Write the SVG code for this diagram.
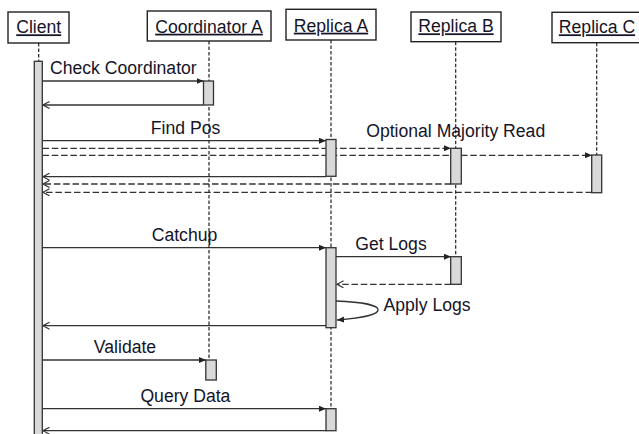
<svg xmlns="http://www.w3.org/2000/svg" width="639" height="434" viewBox="0 0 639 434">
<style>
text{font-family:"Liberation Sans",Arial,sans-serif;font-size:17.6px;fill:#141428}
.hdr{text-anchor:middle;text-decoration:underline}
.box{fill:#fff;stroke:#222;stroke-width:1.4}
.life{stroke:#222;stroke-width:1.2;stroke-dasharray:3.5,2;fill:none}
.bar{fill:#d9d9d9;stroke:#333;stroke-width:1.3}
.msg{stroke:#333;stroke-width:1.3;fill:none}
.dash{stroke-dasharray:6.5,2.8}
.call{marker-end:url(#filled)}
.ret{marker-end:url(#open)}
</style>
<defs>
<marker id="filled" markerUnits="userSpaceOnUse" markerWidth="8" markerHeight="7" refX="7" refY="3" orient="auto">
<path d="M0,0 L7,3 L0,6 z" fill="#222"/>
</marker>
<marker id="open" markerUnits="userSpaceOnUse" markerWidth="9" markerHeight="9" refX="7.5" refY="4" orient="auto">
<path d="M1,0.5 L7.5,4 L1,7.5" fill="none" stroke="#333" stroke-width="1.2"/>
</marker>
</defs>
<rect width="639" height="434" fill="#fff"/>
<g id="connectors">
<line class="msg call" x1="42.5" y1="81" x2="203.5" y2="81"/>
<line class="msg ret" x1="203" y1="105" x2="43" y2="105"/>
<line class="msg call" x1="42.5" y1="140.7" x2="326" y2="140.7"/>
<line class="msg dash call" x1="42.5" y1="148.3" x2="451" y2="148.3"/>
<line class="msg dash call" x1="42.5" y1="155.3" x2="592" y2="155.3"/>
<line class="msg ret" x1="326" y1="176.7" x2="43" y2="176.7"/>
<line class="msg dash ret" x1="451" y1="184" x2="43" y2="184"/>
<line class="msg dash ret" x1="592" y1="192.3" x2="43" y2="192.3"/>
<line class="msg call" x1="42.5" y1="247.7" x2="326" y2="247.7"/>
<line class="msg call" x1="336" y1="256.7" x2="451" y2="256.7"/>
<line class="msg dash ret" x1="451" y1="284.3" x2="337" y2="284.3"/>
<path class="msg call" d="M336,301 C392,303 392,316 337,320"/>
<line class="msg ret" x1="326" y1="325.7" x2="43" y2="325.7"/>
<line class="msg call" x1="42.5" y1="360" x2="206" y2="360"/>
<line class="msg call" x1="42.5" y1="408.7" x2="326" y2="408.7"/>
<line class="msg ret" x1="326" y1="430.7" x2="43" y2="430.7"/>
<text x="50" y="74">Check Coordinator</text>
<text x="185.5" y="134" text-anchor="middle">Find Pos</text>
<text x="455.7" y="137.3" text-anchor="middle">Optional Majority Read</text>
<text x="184.5" y="240.7" text-anchor="middle">Catchup</text>
<text x="391" y="250" text-anchor="middle">Get Logs</text>
<text x="383.5" y="311">Apply Logs</text>
<text x="125" y="352.7" text-anchor="middle">Validate</text>
<text x="185.4" y="401.7" text-anchor="middle">Query Data</text>
</g>
<g id="client">
<rect class="box" x="8" y="12" width="61" height="31"/>
<text class="hdr" x="38.7" y="33.3">Client</text>
<line class="life" x1="38.7" y1="43" x2="38.7" y2="61"/>
<rect class="bar" x="34.3" y="61.3" width="8" height="380"/>
</g>
<g id="coordinatorA">
<rect class="box" x="147.3" y="11" width="123.7" height="30"/>
<text class="hdr" x="209" y="32.7">Coordinator A</text>
<line class="life" x1="209" y1="41" x2="209" y2="360"/>
<rect class="bar" x="203.5" y="81" width="10" height="24"/>
<rect class="bar" x="205.8" y="360" width="10.5" height="20"/>
</g>
<g id="replicaA">
<rect class="box" x="286" y="9.3" width="90" height="30.7"/>
<text class="hdr" x="331" y="31.7">Replica A</text>
<line class="life" x1="331" y1="40" x2="331" y2="409"/>
<rect class="bar" x="326" y="139.5" width="10" height="36.8"/>
<rect class="bar" x="326" y="247.7" width="10" height="80"/>
<rect class="bar" x="326" y="408.7" width="10" height="22"/>
</g>
<g id="replicaB">
<rect class="box" x="411" y="12" width="90" height="29.7"/>
<text class="hdr" x="456" y="32.3">Replica B</text>
<line class="life" x1="455.7" y1="41.7" x2="455.7" y2="257"/>
<rect class="bar" x="450.7" y="148.3" width="10.6" height="35.7"/>
<rect class="bar" x="450.7" y="256.7" width="10.6" height="27.6"/>
</g>
<g id="replicaC">
<rect class="box" x="552" y="12.3" width="90" height="30.4"/>
<text class="hdr" x="597" y="33.3">Replica C</text>
<line class="life" x1="596.7" y1="42.7" x2="596.7" y2="155"/>
<rect class="bar" x="591.7" y="155" width="10" height="37.7"/>
</g>
</svg>
